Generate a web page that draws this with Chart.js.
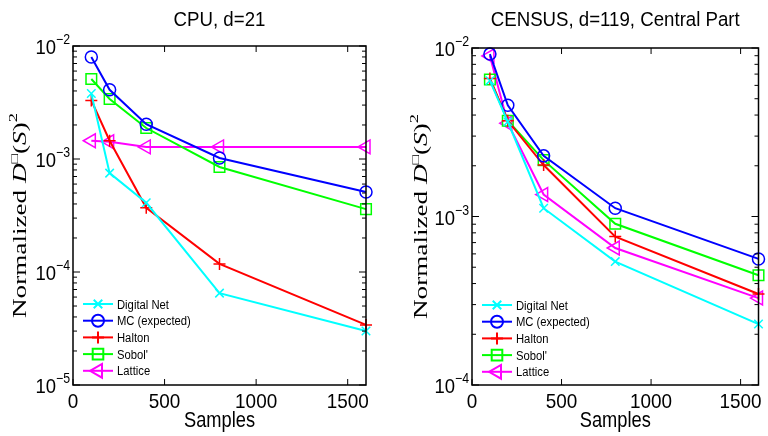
<!DOCTYPE html>
<html>
<head>
<meta charset="utf-8">
<script src="https://cdn.jsdelivr.net/npm/chart.js@4/dist/chart.umd.min.js"></script>
<style>
  body { margin: 0; background: #fff; }
  .wrap { display: flex; width: 768px; height: 436px; }
  canvas { display: block; }
</style>
</head>
<body>
<div class="wrap">
  <canvas id="cpu" width="384" height="436"></canvas>
  <canvas id="census" width="384" height="436"></canvas>
</div>
<script>
  const samples = [100, 200, 400, 800, 1600]
  const seriesNames = ['Digital Net', 'MC (expected)', 'Halton', "Sobol'", 'Lattice']
  const xTicks = [0, 500, 1000, 1500]

  // CPU, d=21
  const cpuDigitalNet = [3.8e-3, 7.5e-4, 4.1e-4, 6.5e-5, 3.0e-5]
  const cpuMC = [8.0e-3, 4.1e-3, 2.03e-3, 1.02e-3, 5.1e-4]
  const cpuHalton = [3.3e-3, 1.45e-3, 3.7e-4, 1.18e-4, 3.4e-5]
  const cpuSobol = [5.1e-3, 3.4e-3, 1.88e-3, 8.5e-4, 3.6e-4]
  const cpuLattice = [1.45e-3, 1.42e-3, 1.28e-3, 1.28e-3, 1.28e-3]
  const cpuDecades = [-5, -4, -3, -2]

  // CENSUS, d=119, Central Part
  const censusDigitalNet = [6.4e-3, 3.65e-3, 1.12e-3, 5.4e-4, 2.3e-4]
  const censusMC = [9.2e-3, 4.57e-3, 2.29e-3, 1.12e-3, 5.6e-4]
  const censusHalton = [6.6e-3, 3.7e-3, 2.02e-3, 7.6e-4, 3.47e-4]
  const censusSobol = [6.5e-3, 3.7e-3, 2.16e-3, 9.05e-4, 4.48e-4]
  const censusLattice = [8.97e-3, 3.58e-3, 1.35e-3, 6.5e-4, 3.28e-4]
  const censusDecades = [-4, -3, -2]

  const colors = ['#00ffff', '#0000ff', '#ff0000', '#00ff00', '#ff00ff']
  const markers = ['crossRot', 'circle', 'cross', 'rect', 'triangle']
  const markerRadius = [6, 6, 6, 7.5, 8]
  const markerRotation = [0, 0, 0, 0, -90]

  const SANS = '"Liberation Sans", Arial, Helvetica, sans-serif'
  const SERIF = '"Liberation Serif", "DejaVu Serif", serif'

  // matlab export text is a bit narrow, so squeeze it horizontally
  const text = (ctx, str, x, y, font, align, sx) => {
    ctx.save()
    ctx.font = font
    ctx.textAlign = align
    ctx.textBaseline = 'alphabetic'
    ctx.translate(x, y)
    ctx.scale(sx, 1)
    ctx.fillText(str, 0, 0)
    ctx.restore()
  }
  const textWidth = (ctx, str, font, sx) => {
    ctx.font = font
    return ctx.measureText(str).width * sx
  }

  const drawMarker = (ctx, style, r, rot, x, y) => {
    Chart.helpers.drawPoint(ctx, {pointStyle: style, radius: r, rotation: rot, borderWidth: 1.5}, x, y)
  }

  const matlabFrame = {
    id: 'matlabFrame',
    afterDraw(chart, args, opts) {
      const ctx = chart.ctx
      const a = chart.chartArea
      const xs = chart.scales.x
      const ys = chart.scales.y
      ctx.save()
      ctx.fillStyle = '#000'

      // box
      ctx.strokeStyle = '#000'
      ctx.lineWidth = 1.5
      ctx.strokeRect(a.left, a.top, a.right - a.left, a.bottom - a.top)

      // x ticks (bottom and top, inward) + labels
      ctx.lineWidth = 1
      xTicks.forEach(v => {
        const px = xs.getPixelForValue(v)
        ctx.beginPath()
        ctx.moveTo(px, a.bottom); ctx.lineTo(px, a.bottom - 6)
        ctx.moveTo(px, a.top); ctx.lineTo(px, a.top + 6)
        ctx.stroke()
        text(ctx, String(v), px, a.bottom + 23, '21px ' + SANS, 'center', 0.9)
      })
      text(ctx, 'Samples', (a.left + a.right) / 2, a.bottom + 42, '22px ' + SANS, 'center', 0.83)

      // y ticks, log decades with minor ticks
      const decs = opts.decades
      decs.forEach((d, i) => {
        const py = ys.getPixelForValue(Math.pow(10, d))
        ctx.beginPath()
        ctx.moveTo(a.left, py); ctx.lineTo(a.left + 7, py)
        ctx.moveTo(a.right, py); ctx.lineTo(a.right - 7, py)
        ctx.stroke()
        if (i < decs.length - 1) {
          for (let m = 2; m <= 9; m++) {
            const pm = ys.getPixelForValue(m * Math.pow(10, d))
            ctx.beginPath()
            ctx.moveTo(a.left, pm); ctx.lineTo(a.left + 4, pm)
            ctx.moveTo(a.right, pm); ctx.lineTo(a.right - 4, pm)
            ctx.stroke()
          }
        }
        // label 10^d
        const exp = '\u2212' + Math.abs(d)
        const expFont = '14px ' + SANS
        const ew = textWidth(ctx, exp, expFont, 0.88)
        text(ctx, exp, a.left - 3, py - 2, expFont, 'right', 0.88)
        text(ctx, '10', a.left - 3 - ew, py + 8, '21px ' + SANS, 'right', 0.88)
      })

      // title
      text(ctx, opts.title, (a.left + a.right) / 2, opts.titleY, '20.5px ' + SANS, 'center', 0.91)

      // rotated y-axis label: Normalized D□(S)²
      const parts = [
        {t: 'Normalized ', f: '19px ' + SERIF, dy: 0},
        {t: 'D', f: 'italic 19px ' + SERIF, dy: 0},
        {t: '\u25A1', f: '11px ' + SERIF, dy: -8},
        {t: '(', f: '19px ' + SERIF, dy: 0},
        {t: 'S', f: 'italic 19px ' + SERIF, dy: 0},
        {t: ')', f: '19px ' + SERIF, dy: 0},
        {t: '2', f: '13px ' + SERIF, dy: -9}
      ]
      let total = 0
      parts.forEach(p => { ctx.font = p.f; p.w = ctx.measureText(p.t).width; total += p.w })
      const stretch = opts.yLabelLength / total
      ctx.translate(opts.yLabelX, (a.top + a.bottom) / 2)
      ctx.rotate(-Math.PI / 2)
      ctx.scale(stretch, 1)
      ctx.textAlign = 'left'
      ctx.textBaseline = 'alphabetic'
      let cx = -total / 2
      parts.forEach(p => {
        ctx.font = p.f
        ctx.fillText(p.t, cx, 6 + p.dy)
        cx += p.w
      })
      ctx.setTransform(1, 0, 0, 1, 0, 0)

      // legend (line + marker), no box
      chart.data.datasets.forEach((ds, i) => {
        const y = opts.legendY + i * 16.7
        const x0 = opts.legendX
        ctx.strokeStyle = ds.borderColor
        ctx.lineWidth = 2
        ctx.beginPath()
        ctx.moveTo(x0, y); ctx.lineTo(x0 + 30, y)
        ctx.stroke()
        ctx.fillStyle = 'rgba(0,0,0,0)'
        drawMarker(ctx, markers[i], markerRadius[i], markerRotation[i], x0 + 15, y)
        ctx.fillStyle = '#000'
        text(ctx, ds.label, x0 + 34, y + 4.5, '12.5px ' + SANS, 'left', 0.9)
      })
      ctx.restore()
    }
  }

  const makeChart = (canvasId, seriesValues, yMin, yMax, frame, padding) => {
    const datasets = seriesValues.map((vals, i) => ({
      label: seriesNames[i],
      data: samples.map((s, k) => ({x: s, y: vals[k]})),
      borderColor: colors[i],
      backgroundColor: colors[i],
      borderWidth: 2,
      pointStyle: markers[i],
      pointRadius: markerRadius[i],
      pointRotation: markerRotation[i],
      pointBorderWidth: 1.5,
      pointBackgroundColor: 'rgba(0,0,0,0)',
      pointBorderColor: colors[i],
      tension: 0,
      clip: false
    }))
    return new Chart(document.getElementById(canvasId).getContext('2d'), {
      type: 'line',
      data: {datasets: datasets},
      options: {
        responsive: false,
        animation: false,
        layout: {padding: padding},
        scales: {
          x: {type: 'linear', min: 0, max: 1600, display: false},
          y: {type: 'logarithmic', min: yMin, max: yMax, display: false}
        },
        plugins: {
          legend: {display: false},
          tooltip: {enabled: false},
          matlabFrame: frame
        }
      },
      plugins: [matlabFrame]
    })
  }

  makeChart('cpu',
    [cpuDigitalNet, cpuMC, cpuHalton, cpuSobol, cpuLattice],
    Math.pow(10, cpuDecades[0]), Math.pow(10, cpuDecades[cpuDecades.length - 1]),
    {title: 'CPU, d=21', titleY: 25.5, yLabelX: 20, yLabelLength: 205, legendX: 83, legendY: 304, decades: cpuDecades},
    {left: 73, top: 46, right: 18, bottom: 51})

  makeChart('census',
    [censusDigitalNet, censusMC, censusHalton, censusSobol, censusLattice],
    Math.pow(10, censusDecades[0]), Math.pow(10, censusDecades[censusDecades.length - 1]),
    {title: 'CENSUS, d=119, Central Part', titleY: 26, yLabelX: 37, yLabelLength: 205, legendX: 98, legendY: 305, decades: censusDecades},
    {left: 88, top: 48, right: 4, bottom: 51})
</script>
</body>
</html>
